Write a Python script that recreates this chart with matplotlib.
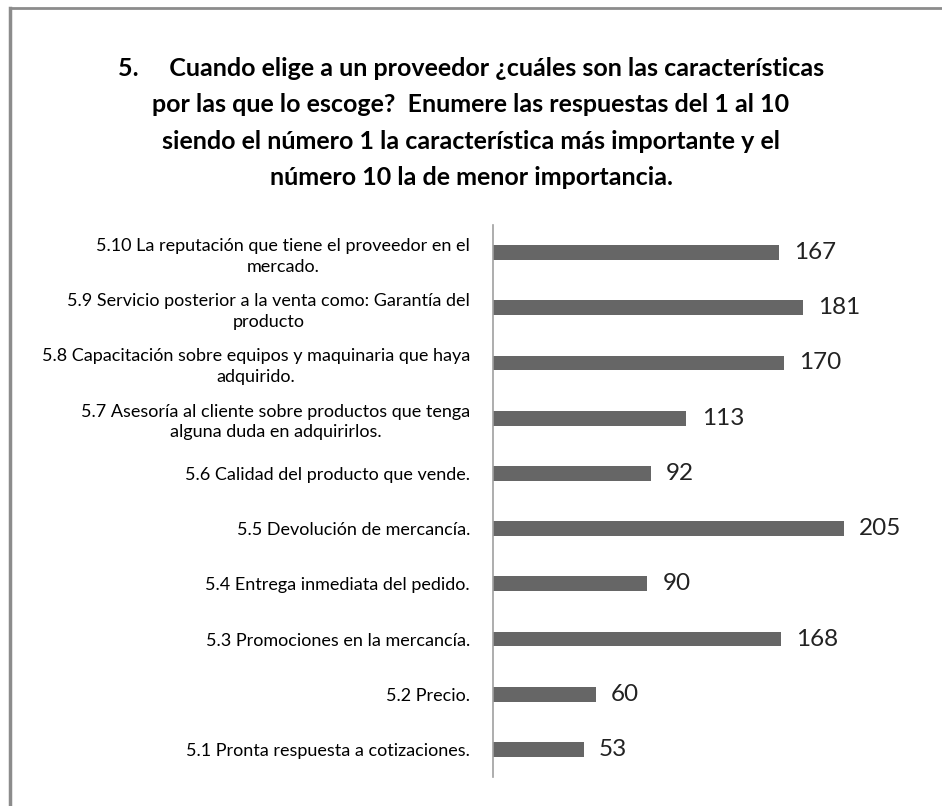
import matplotlib
matplotlib.use('Agg')
import matplotlib.pyplot as plt
from matplotlib.lines import Line2D

plt.rcParams['font.family'] = ['Lato', 'DejaVu Sans']

# bottom to top, as drawn on the y axis
categories = [
    "5.1 Pronta respuesta a cotizaciones.",
    "5.2 Precio.",
    "5.3 Promociones en la mercancía.",
    "5.4 Entrega inmediata del pedido.",
    "5.5 Devolución de mercancía.",
    "5.6 Calidad del producto que vende.",
    "5.7 Asesoría al cliente sobre productos que tenga\nalguna duda en adquirirlos.",
    "5.8 Capacitación sobre equipos y maquinaria que haya\nadquirido.",
    "5.9 Servicio posterior a la venta como: Garantía del\nproducto",
    "5.10 La reputación que tiene el proveedor en el\nmercado.",
]
counts = [53, 60, 168, 90, 205, 92, 113, 170, 181, 167]

title = ("5.     Cuando elige a un proveedor ¿cuáles son las características\n"
         "por las que lo escoge?  Enumere las respuestas del 1 al 10\n"
         "siendo el número 1 la característica más importante y el\n"
         "número 10 la de menor importancia.")

fig = plt.figure(figsize=(9.42, 8.06), dpi=100)
ax = fig.add_axes([493 / 942, 29 / 806, 428 / 942, 552 / 806])

ypos = list(range(len(categories)))
ax.barh(ypos, counts, height=0.27, color='#666666')

for y, v in zip(ypos, counts):
    ax.text(v + 9, y, str(v), va='center', ha='left', fontsize=17.5, color='#222222')

ax.set_xlim(0, 250)
ax.set_ylim(-0.5, len(categories) - 0.5)
ax.set_yticks(ypos)
ax.set_yticklabels(categories, fontsize=13, multialignment='center', linespacing=1.35)
ax.tick_params(axis='y', length=0, pad=16.5)
ax.set_xticks([])
for side in ['top', 'right', 'bottom']:
    ax.spines[side].set_visible(False)
ax.spines['left'].set_color('#a0a0a0')
ax.spines['left'].set_linewidth(1.2)

fig.text(0.5, 1 - 123 / 806, title, ha='center', va='center', fontsize=18,
         fontweight='bold', linespacing=1.69)

# frame lines along the top and left edge
fig.add_artist(Line2D([9.5 / 942, 1], [1 - 8 / 806, 1 - 8 / 806],
                      transform=fig.transFigure, color='#8c8c8c', lw=2))
fig.add_artist(Line2D([9.5 / 942, 9.5 / 942], [0, 1 - 8 / 806],
                      transform=fig.transFigure, color='#8c8c8c', lw=2.5))

fig.savefig('out.png', dpi=100)
